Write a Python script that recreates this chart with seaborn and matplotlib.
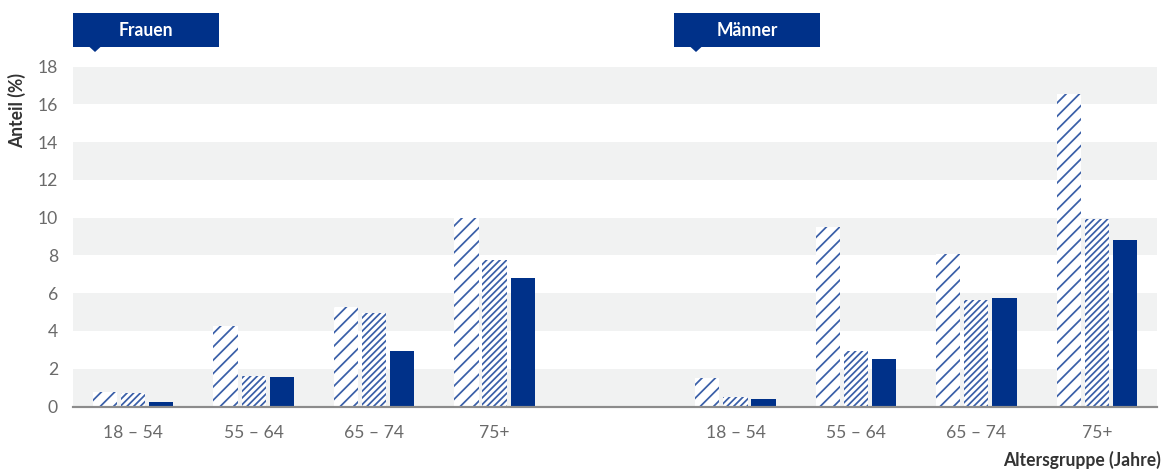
import numpy as np
import pandas as pd
import matplotlib
matplotlib.use("Agg")
import matplotlib.pyplot as plt
import seaborn as sns
from matplotlib.patches import Rectangle, Polygon

# ---------------- data ----------------
age_groups = ["18 – 54", "55 – 64", "65 – 74", "75+"]
genders = ["Frauen", "Männer"]
series_labels = ["Serie 1", "Serie 2", "Serie 3"]

frauen_s1 = [0.78, 4.26, 5.29, 10.0]
frauen_s2 = [0.73, 1.63, 4.97, 7.75]
frauen_s3 = [0.25, 1.58, 2.96, 6.80]

maenner_s1 = [1.53, 9.50, 8.08, 16.55]
maenner_s2 = [0.52, 2.93, 5.64, 9.93]
maenner_s3 = [0.40, 2.52, 5.75, 8.82]

y_ticks = [0, 2, 4, 6, 8, 10, 12, 14, 16, 18]
y_label = "Anteil (%)"
x_label = "Altersgruppe (Jahre)"

# ---------------- table ----------------
values = {
    "Frauen": [frauen_s1, frauen_s2, frauen_s3],
    "Männer": [maenner_s1, maenner_s2, maenner_s3],
}
rows = []
for g in genders:
    for s_name, s_vals in zip(series_labels, values[g]):
        for age, v in zip(age_groups, s_vals):
            rows.append({"slot": f"{g} {age}", "serie": s_name, "value": v})
df = pd.DataFrame(rows)
order = [f"Frauen {a}" for a in age_groups] + ["_gap"] + [f"Männer {a}" for a in age_groups]
tick_labels = age_groups + [""] + age_groups

# ---------------- style ----------------
sns.set_theme(style="white")
plt.rcParams["font.family"] = ["Lato", "DejaVu Sans"]
plt.rcParams["hatch.linewidth"] = 1.05

NAVY = "#003189"
HATCH_BLUE = "#3a5fa8"
BAND = "#f1f2f2"
AXIS_GRAY = "#8c8c8c"
TEXT_GRAY = "#6a6a6a"
DARK = "#333333"

W, H, DPI = 1168, 472, 120
fig = plt.figure(figsize=(W / DPI, H / DPI), dpi=DPI)
ax = fig.add_axes([73 / W, 1 - 406.5 / H, (1157 - 73) / W, (406.5 - 66.7) / H])

for lo in y_ticks[:-1:2]:
    ax.axhspan(lo, lo + 2, color=BAND, lw=0, zorder=0)

sns.barplot(
    data=df, x="slot", y="value", hue="serie", order=order, hue_order=series_labels,
    width=0.7, gap=0.14, errorbar=None, legend=False, ax=ax,
    palette=[NAVY, NAVY, NAVY], zorder=2,
)

styles = [
    ("white", HATCH_BLUE, "///"),
    ("white", HATCH_BLUE, "//////"),
    (NAVY, NAVY, None),
]
for cont, (fc, hc, hatch) in zip(ax.containers, styles):
    for bar in cont:
        bar.set_facecolor(fc)
        bar.set_edgecolor(hc)
        bar.set_linewidth(0)
        if hatch:
            bar.set_hatch(hatch)

ax.set_xlim(-0.5, len(order) - 0.5)
ax.set_ylim(0, 18)
ax.set_xlabel("")
ax.set_ylabel("")

ax.set_xticks(range(len(order)))
ax.set_xticklabels(tick_labels, fontsize=10.5, color=TEXT_GRAY, fontweight="normal")
ax.set_xticks(np.arange(-0.5, len(order), 1.0), minor=True)
ax.tick_params(axis="x", which="major", length=0, pad=11)
ax.tick_params(axis="x", which="minor", length=5, width=1.3, color=AXIS_GRAY)

ax.set_yticks(y_ticks)
ax.set_yticklabels([str(t) for t in y_ticks], fontsize=10.5, color=TEXT_GRAY, fontweight="normal")
ax.tick_params(axis="y", length=0, pad=9)

for side in ["top", "right", "left"]:
    ax.spines[side].set_visible(False)
ax.spines["bottom"].set_color(AXIS_GRAY)
ax.spines["bottom"].set_linewidth(1.3)
ax.grid(False)

# axis titles
fig.text(17 / W, 1 - 110 / H, y_label, rotation=90, ha="center", va="center",
         fontsize=10.5, fontweight="bold", color=DARK)
fig.text(1161 / W, 1 - 460 / H, x_label, ha="right", va="center",
         fontsize=10.5, fontweight="bold", color=DARK)

# group header boxes
def header(left_px, text):
    fig.add_artist(Rectangle((left_px / W, 1 - 47 / H), 146 / W, 34 / H,
                             transform=fig.transFigure, facecolor=NAVY, lw=0))
    tip = left_px + 22
    fig.add_artist(Polygon([((tip - 6) / W, 1 - 46.5 / H), ((tip + 6) / W, 1 - 46.5 / H),
                            (tip / W, 1 - 52 / H)], closed=True,
                           transform=fig.transFigure, facecolor=NAVY, lw=0))
    fig.text((left_px + 73) / W, 1 - 30 / H, text, ha="center", va="center",
             fontsize=10.5, fontweight="bold", color="white")

header(73, genders[0])
header(674, genders[1])

fig.savefig("out.png", dpi=DPI)
